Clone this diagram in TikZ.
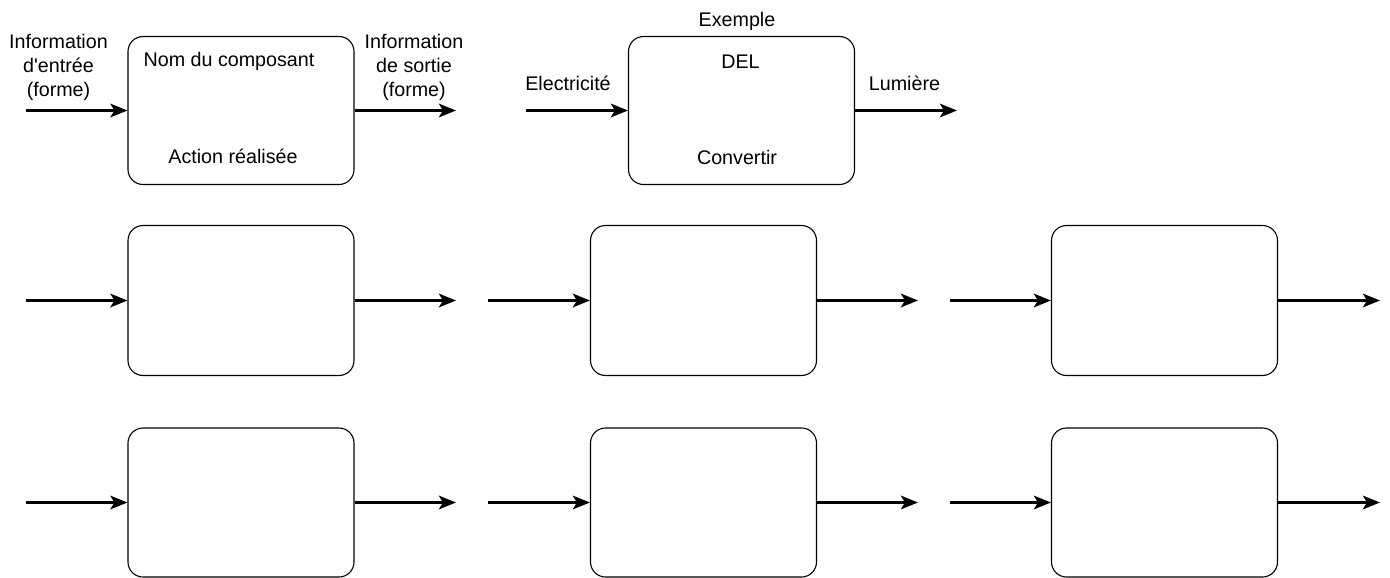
\documentclass[tikz,border=0pt]{standalone}
\usepackage{fontspec}
\setmainfont{Liberation Sans}[Ligatures=TeXOff]
\usetikzlibrary{arrows.meta}
\begin{document}
\begin{tikzpicture}[x=1pt,y=-1pt,
  block/.style={draw=black,line width=1.1pt,rounded corners=15pt,minimum width=226pt,inner sep=0pt},
  flow/.style={line width=3pt,-{Stealth[length=17pt,width=13.5pt,inset=4pt]}},
  lbl/.style={inner sep=0pt,align=center,font=\fontsize{19.7}{24}\selectfont}]
\useasboundingbox (0,0) rectangle (1390,578);

% first row: template and example
\node[block,minimum height=148pt] (t1) at (241,110.5) {};
\node[block,minimum height=148pt] (ex) at (741.5,110.5) {};
% second row
\node[block,minimum height=150pt] (a2) at (241,300.5) {};
\node[block,minimum height=150pt] (b2) at (703.5,300.5) {};
\node[block,minimum height=150pt] (c2) at (1164.5,300.5) {};
% third row
\node[block,minimum height=149pt] (a3) at (241,502.5) {};
\node[block,minimum height=149pt] (b3) at (703.5,502.5) {};
\node[block,minimum height=149pt] (c3) at (1164.5,502.5) {};

% free ends of the connectors
\coordinate (t1in) at (26,110.5);   \coordinate (t1out) at (456,110.5);
\coordinate (exin) at (526,110.5);  \coordinate (exout) at (957,110.5);
\coordinate (a2in) at (26,300.5);   \coordinate (a2out) at (456,300.5);
\coordinate (b2in) at (488,300.5);  \coordinate (b2out) at (918,300.5);
\coordinate (c2in) at (950,300.5);  \coordinate (c2out) at (1380,300.5);
\coordinate (a3in) at (26,502.5);   \coordinate (a3out) at (456,502.5);
\coordinate (b3in) at (488,502.5);  \coordinate (b3out) at (918,502.5);
\coordinate (c3in) at (950,502.5);  \coordinate (c3out) at (1380,502.5);

\foreach \b in {t1,ex,a2,b2,c2,a3,b3,c3}{
  \draw[flow] (\b in) -- (\b.west);
  \draw[flow] (\b.east) -- (\b out);
}

% labels of the template block
\node[lbl] (inlbl) at (58.5,67) {Information\\d'entrée\\(forme)};
\node[lbl] (name) at (229,61) {Nom du composant};
\node[lbl] (act) at (233,156) {Action réalisée};
\node[lbl] (outlbl) at (414,67) {Information\\de sortie\\(forme)};

% labels of the example block
\node[lbl] (extitle) at (737,21) {Exemple};
\node[lbl] (del) at (740.5,62) {DEL};
\node[lbl] (elec) at (568,83) {Electricité};
\node[lbl] (lum) at (904.5,83) {Lumière};
\node[lbl] (conv) at (737,157) {Convertir};
\end{tikzpicture}
\end{document}
